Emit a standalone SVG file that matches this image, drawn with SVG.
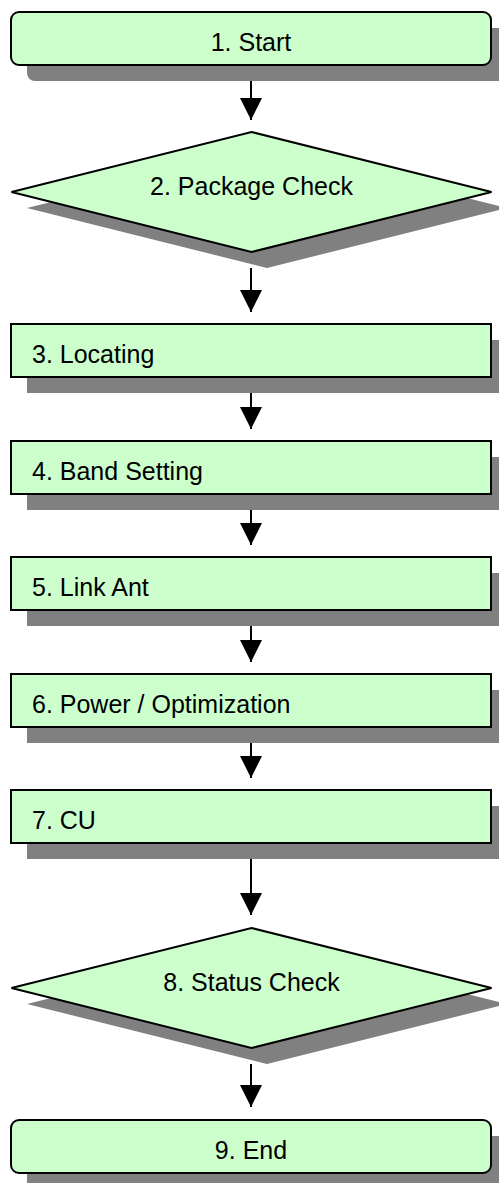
<svg xmlns="http://www.w3.org/2000/svg" width="499" height="1183" viewBox="0 0 499 1183">
<style>
.sh{fill:#808080;stroke:none}
.nd{fill:#CCFFCC;stroke:#000;stroke-width:2}
.t{font-family:"Liberation Sans",Arial,sans-serif;font-size:25px;fill:#000}
.c{text-anchor:middle}
.ln{stroke:#000;stroke-width:2;fill:none}
</style>
<defs>
<marker id="ah" markerUnits="userSpaceOnUse" markerWidth="22" markerHeight="22" viewBox="0 0 20 20" refX="20" refY="10" orient="auto">
<path d="M0,0 L20,10 L0,20 Z" fill="#000"/>
</marker>
</defs>
<g id="n1">
<rect class="sh" x="27" y="28" width="480" height="53" rx="8"/>
<rect class="nd" x="11" y="12" width="480" height="53" rx="8"/>
<text class="t c" x="251" y="51">1. Start</text>
</g>
<g id="n2">
<polygon class="sh" points="267,148 507,208 267,268 27,208"/>
<polygon class="nd" points="251.5,132 491.5,192 251.5,252 11.5,192"/>
<text class="t c" x="251.5" y="195">2. Package Check</text>
</g>
<g id="n3">
<rect class="sh" x="27" y="340" width="480" height="53"/>
<rect class="nd" x="11" y="324" width="480" height="53"/>
<text class="t" x="32" y="363">3. Locating</text>
</g>
<g id="n4">
<rect class="sh" x="27" y="457" width="480" height="53"/>
<rect class="nd" x="11" y="441" width="480" height="53"/>
<text class="t" x="32" y="480">4. Band Setting</text>
</g>
<g id="n5">
<rect class="sh" x="27" y="573" width="480" height="53"/>
<rect class="nd" x="11" y="557" width="480" height="53"/>
<text class="t" x="32" y="596">5. Link Ant</text>
</g>
<g id="n6">
<rect class="sh" x="27" y="690" width="480" height="53"/>
<rect class="nd" x="11" y="674" width="480" height="53"/>
<text class="t" x="32" y="713">6. Power / Optimization</text>
</g>
<g id="n7">
<rect class="sh" x="27" y="806" width="480" height="53"/>
<rect class="nd" x="11" y="790" width="480" height="53"/>
<text class="t" x="32" y="829">7. CU</text>
</g>
<g id="n8">
<polygon class="sh" points="267,944 507,1004 267,1064 27,1004"/>
<polygon class="nd" points="251.5,928 491.5,988 251.5,1048 11.5,988"/>
<text class="t c" x="251.5" y="991">8. Status Check</text>
</g>
<g id="n9">
<rect class="sh" x="27" y="1136" width="480" height="53" rx="8"/>
<rect class="nd" x="11" y="1120" width="480" height="53" rx="8"/>
<text class="t c" x="251" y="1159">9. End</text>
</g>
<g id="connectors">
<line class="ln" x1="251" y1="81" x2="251" y2="120" marker-end="url(#ah)"/>
<line class="ln" x1="251" y1="268" x2="251" y2="312" marker-end="url(#ah)"/>
<line class="ln" x1="251" y1="393" x2="251" y2="429" marker-end="url(#ah)"/>
<line class="ln" x1="251" y1="510" x2="251" y2="545" marker-end="url(#ah)"/>
<line class="ln" x1="251" y1="626" x2="251" y2="662" marker-end="url(#ah)"/>
<line class="ln" x1="251" y1="743" x2="251" y2="778" marker-end="url(#ah)"/>
<line class="ln" x1="251" y1="859" x2="251" y2="915" marker-end="url(#ah)"/>
<line class="ln" x1="251" y1="1064" x2="251" y2="1107" marker-end="url(#ah)"/>
</g>
</svg>
